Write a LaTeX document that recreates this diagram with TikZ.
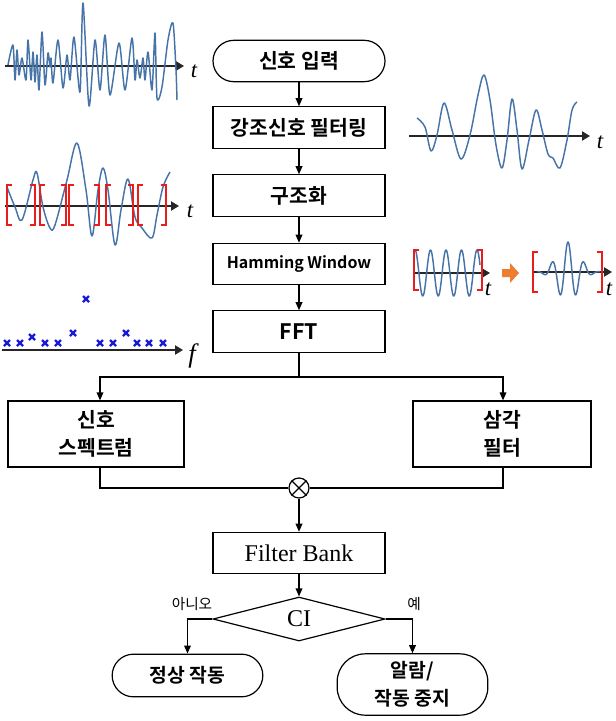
\documentclass[tikz,border=0pt]{standalone}
\usepackage{fontspec}
\setmainfont{Liberation Serif}
\newfontfamily\kr{Noto Sans CJK KR}[BoldFont={Noto Sans CJK KR Bold}]
\usetikzlibrary{arrows.meta,shapes.geometric,calc}
\definecolor{wblue}{RGB}{70,116,168}
\definecolor{xblue}{RGB}{25,25,215}
\definecolor{brred}{RGB}{232,30,30}
\definecolor{oarrow}{RGB}{237,125,49}
\begin{document}
\begin{tikzpicture}[x=0.75pt,y=-0.75pt,
  line width=0.9pt,
  flow/.style={-{Triangle[length=6pt,width=5pt]}},
  box/.style={draw, rectangle, minimum width=129pt, minimum height=31pt, inner sep=0pt, align=center, font=\kr\bfseries\fontsize{15.3}{21}\selectfont},
  stad/.style={box, rounded corners=15.5pt},
  wave/.style={wblue, line width=1.1pt, line join=round},
  axis/.style={line width=0.8pt, black!85, -{Triangle[length=6pt,width=7pt]}},
  brk/.style={brred, line width=1.6pt},
  tlab/.style={font=\itshape\fontsize{17}{17}\selectfont, inner sep=0pt},
  lab/.style={font=\kr\fontsize{11}{12}\selectfont, inner sep=0pt},
  xm/.style={xblue, line width=1.7pt}
]
\useasboundingbox (0,0) rectangle (616,721);

% ---------- flow nodes ----------
\node[stad] (start) at (299,61) {신호 입력};
\node[box] (emph) at (299,127.5) {강조신호 필터링};
\node[box] (struct) at (299,195.5) {구조화};
\node[box, font=\kr\bfseries\fontsize{12}{14}\selectfont] (ham) at (299,264) {Hamming Window};
\node[box, font=\kr\bfseries\fontsize{16}{18}\selectfont] (fft) at (299,331.5) {FFT};
\node[box, minimum width=132pt, minimum height=49.5pt] (spec) at (96,434) {신호\\스펙트럼};
\node[box, minimum width=133.5pt, minimum height=49.5pt] (tri) at (502,434) {삼각\\필터};
\node[draw, circle, minimum size=15pt, inner sep=0pt] (mult) at (299,488) {};
\draw (mult.45) -- (mult.225) (mult.135) -- (mult.315);
\node[box, font=\fontsize{18}{20}\selectfont] (fb) at (299,553) {Filter Bank};
\node[draw, diamond, minimum width=129pt, minimum height=33pt, inner sep=0pt, font=\fontsize{18}{20}\selectfont] (ci) at (299,619) {CI};
\node[stad, minimum width=113pt, minimum height=32pt, rounded corners=16pt, font=\kr\bfseries\fontsize{14.5}{21}\selectfont] (normal) at (187.5,675.5) {정상 작동};
\node[stad, minimum width=113pt, minimum height=46pt, rounded corners=21pt, font=\kr\bfseries\fontsize{14.5}{21}\selectfont] (alarm) at (412.5,684.5) {알람/\\작동 중지};

% ---------- connectors ----------
\draw[flow] (start) -- (emph);
\draw[flow] (emph) -- (struct);
\draw[flow] (struct) -- (ham);
\draw[flow] (ham) -- (fft);
\coordinate (split) at (299,377);
\coordinate (sl) at (100,377);
\coordinate (sr) at (503,377);
\draw (fft.south) -- (split);
\draw[flow] (split) -- (sl) -- (sl |- spec.north);
\draw[flow] (split) -- (sr) -- (sr |- tri.north);
\draw (sl |- spec.south) |- (mult.west);
\draw (sr |- tri.south) |- (mult.east);
\draw[flow] (mult) -- (fb);
\draw[flow] (fb) -- (ci);
\draw[flow] (ci.west) -| (normal.north);
\draw[flow] (ci.east) -| (alarm.north);
\node[lab] (no) at (192,604) {아니오};
\node[lab] (yes) at (414,604) {예};

% ---------- top-left raw signal ----------
\draw[axis] (5,66) -- (184,66);
\node[tlab] (t1) at (194,71) {t};
\draw[wave] plot[smooth, tension=0.45] coordinates {
(8,65) (13,45) (15,80) (17,50) (19,75) (22,58) (26,80) (28,40) (31,80) (33,52)
(35,82) (37,55) (39,90) (42,32) (45,85) (48,53) (50,67) (51,58) (53,83) (58,40)
(63,88) (67,55) (70,80) (74,37) (80,92) (83,3) (89,106) (95,40) (100,90) (105,35)
(110,95) (119,43) (125,90) (132,38) (135,80) (137,60) (140,78) (143,58) (145,80)
(148,52) (152,90) (155,33) (157,98) (162,87) (168,40) (173,23) (176,70) (177,100)};

% ---------- emphasised signal (right) ----------
\draw[axis] (409,136) -- (590,136);
\node[tlab] (t2) at (600,142) {t};
\draw[wave] plot[smooth, tension=0.55] coordinates {
(417,118) (425,127) (431,151) (437,135) (444,103) (452,130) (461,159) (470,135)
(478,95) (484,75) (490,100) (496,145) (502,168) (507,140) (512,99) (517,130)
(522,169) (529,140) (536,110) (542,130) (548,154) (553,158) (560,168) (567,140)
(572,110) (577,102)};

% ---------- structured signal ----------
\draw[axis] (5,206) -- (179,206);
\node[tlab] (t3) at (190,211) {t};
\draw[wave] plot[smooth, tension=0.55] coordinates {
(7,187) (15,207) (22,220) (33,180) (37,173) (43,207) (50,228) (55,225) (67,180)
(77,143) (86,190) (92,236) (98,190) (103,168) (108,190) (115,245) (121,210)
(128,179) (135,217) (142,228) (152,238) (157,215) (163,187) (170,172)};
\foreach \bx in {7,40,69,106,138} {
  \draw[brk] (\bx+5,185) -- (\bx,185) -- (\bx,225) -- (\bx+5,225);
}
\foreach \bx in {35,66,99,133,166} {
  \draw[brk] (\bx-5,185) -- (\bx,185) -- (\bx,225) -- (\bx-5,225);
}

% ---------- Hamming window illustration ----------
\draw[axis] (413,273) -- (490,273);
\node[tlab] (t4) at (488,289) {t};
\draw[wave] plot[domain=415:480, samples=140, smooth] (\x, {273-23*cos(23.2258*(\x-415))});
\draw[brk] (419,250) -- (414,250) -- (414,290) -- (419,290);
\draw[brk] (477,250) -- (482,250) -- (482,290) -- (477,290);
\fill[oarrow] (502,269) -- (510,269) -- (510,263) -- (519,273) -- (510,283) -- (510,277) -- (502,277) -- cycle;
\draw[axis] (533,272) -- (612,272);
\node[tlab] (t5) at (609,289) {t};
\draw[wave] plot[domain=537:600, samples=160, smooth] (\x, {272-30*exp(-((\x-568)/15)^2)*cos(22.5*(\x-568))});
\draw[brk] (538,252) -- (533,252) -- (533,292) -- (538,292);
\draw[brk] (597,252) -- (602,252) -- (602,292) -- (597,292);

% ---------- spectrum ----------
\draw[axis] (2,350) -- (183,350);
\node[tlab, font=\itshape\fontsize{20}{20}\selectfont] (fl) at (192,356) {f};
\foreach \mx/\my in {7/343,20/343,32/337,45/343,58/343,73/333,86/299,100/343,113/343,126/333,137/343,149/343,163/343} {
  \draw[xm] (\mx-3,\my-3) -- (\mx+3,\my+3) (\mx-3,\my+3) -- (\mx+3,\my-3);
}
\end{tikzpicture}
\end{document}
